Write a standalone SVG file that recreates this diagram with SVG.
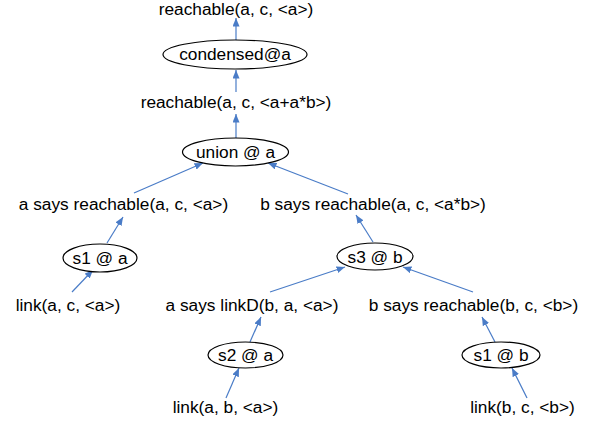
<svg xmlns="http://www.w3.org/2000/svg" width="590" height="421" viewBox="0 0 590 421">
  <style>
    text { font-family: "Liberation Sans", Arial, sans-serif; font-size: 17.3px; fill: #000; text-anchor: middle; }
    ellipse { fill: #fff; stroke: #000; stroke-width: 1.2; }
    .edge { stroke: #4a7cc7; stroke-width: 1.2; fill: none; marker-end: url(#arrow); }
  </style>
  <defs>
    <marker id="arrow" markerUnits="userSpaceOnUse" markerWidth="9" markerHeight="7" refX="8.5" refY="3.5" orient="auto">
      <path d="M0,0 L8.5,3.5 L0,7 Z" fill="#4a7cc7"/>
    </marker>
  </defs>

  <g id="connectors">
    <line class="edge" x1="236" y1="40" x2="236" y2="18"/>
    <line class="edge" x1="236" y1="92" x2="236" y2="70"/>
    <line class="edge" x1="236" y1="138" x2="236" y2="114"/>
    <line class="edge" x1="134" y1="193" x2="203" y2="163"/>
    <line class="edge" x1="348" y1="194" x2="268" y2="163"/>
    <line class="edge" x1="107" y1="243" x2="123" y2="217"/>
    <line class="edge" x1="373" y1="242" x2="356" y2="215"/>
    <line class="edge" x1="72" y1="292" x2="93" y2="270"/>
    <line class="edge" x1="270" y1="292" x2="345" y2="267"/>
    <line class="edge" x1="473" y1="292" x2="403" y2="267"/>
    <line class="edge" x1="250" y1="342" x2="261" y2="317"/>
    <line class="edge" x1="495" y1="342" x2="482" y2="317"/>
    <line class="edge" x1="226" y1="398" x2="239" y2="368"/>
    <line class="edge" x1="527" y1="398" x2="512" y2="368"/>
  </g>

  <g id="reachable-a-c-a"><text x="236" y="15">reachable(a, c, &lt;a&gt;)</text></g>
  <g id="condensed-a"><ellipse cx="235" cy="54.5" rx="72" ry="14.5"/><text x="235" y="60">condensed@a</text></g>
  <g id="reachable-a-c-aab"><text x="236" y="108">reachable(a, c, &lt;a+a*b&gt;)</text></g>
  <g id="union-a"><ellipse cx="235.5" cy="152" rx="53" ry="14"/><text x="235.5" y="158">union @ a</text></g>
  <g id="a-says-reachable"><text x="123.5" y="210">a says reachable(a, c, &lt;a&gt;)</text></g>
  <g id="b-says-reachable"><text x="373" y="210">b says reachable(a, c, &lt;a*b&gt;)</text></g>
  <g id="s1-a"><ellipse cx="100" cy="258" rx="37" ry="14"/><text x="100" y="264">s1 @ a</text></g>
  <g id="s3-b"><ellipse cx="375" cy="256.5" rx="38" ry="13.5"/><text x="375" y="262.5">s3 @ b</text></g>
  <g id="link-a-c"><text x="68" y="311">link(a, c, &lt;a&gt;)</text></g>
  <g id="a-says-linkD"><text x="252" y="311">a says linkD(b, a, &lt;a&gt;)</text></g>
  <g id="b-says-reachable-b"><text x="473.5" y="311">b says reachable(b, c, &lt;b&gt;)</text></g>
  <g id="s2-a"><ellipse cx="245.5" cy="355" rx="37.5" ry="13"/><text x="245.5" y="361">s2 @ a</text></g>
  <g id="s1-b"><ellipse cx="501" cy="355" rx="39" ry="13"/><text x="501" y="361">s1 @ b</text></g>
  <g id="link-a-b"><text x="225.5" y="413">link(a, b, &lt;a&gt;)</text></g>
  <g id="link-b-c"><text x="522.5" y="413">link(b, c, &lt;b&gt;)</text></g>
</svg>
